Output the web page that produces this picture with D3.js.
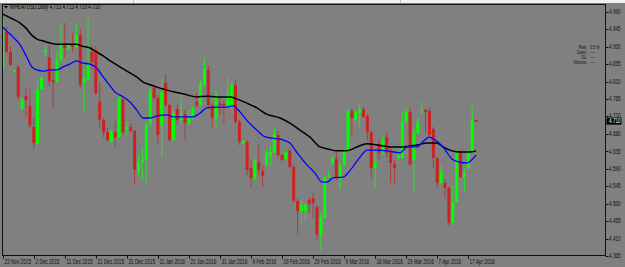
<!DOCTYPE html>
<html><head><meta charset="utf-8">
<script src="https://cdn.jsdelivr.net/npm/d3@7"></script>
<style>body{margin:0;background:#808080;} svg{display:block}</style>
</head><body><svg id="c" width="625" height="267"></svg>
<script>
// ---- data ----
const opens = [4.841,4.938,4.887,4.837,4.849,4.741,4.774,4.749,4.695,4.652,
4.792,4.887,4.874,4.815,4.810,4.866,4.910,4.895,4.905,4.900,
4.930,4.808,4.815,4.887,4.892,4.759,4.713,4.682,4.657,4.682,
4.669,4.767,4.690,4.695,4.685,4.583,4.606,4.611,4.703,4.795,
4.769,4.700,4.808,4.751,4.662,4.741,4.713,4.728,4.703,4.718,
4.759,4.751,4.803,4.841,4.751,4.718,4.756,4.754,4.746,4.744,
4.803,4.708,4.654,4.657,4.590,4.565,4.606,4.583,4.598,4.621,
4.629,4.675,4.623,4.613,4.634,4.593,4.506,4.480,4.480,4.508,
4.513,4.490,4.419,4.462,4.567,4.603,4.613,4.567,4.598,4.631,
4.736,4.713,4.731,4.741,4.723,4.682,4.590,4.652,4.629,4.669,
4.634,4.600,4.616,4.616,4.708,4.733,4.611,4.680,4.733,4.739,
4.736,4.690,4.616,4.552,4.552,4.539,4.450,4.503,4.631,4.567,
4.590,4.631,4.713];
const highs = [4.976,4.951,4.902,4.841,4.851,4.769,4.797,4.792,4.718,4.815,
4.826,4.900,4.905,4.841,4.892,4.961,4.961,4.907,4.936,4.961,
4.948,4.849,4.974,4.902,4.902,4.810,4.718,4.693,4.687,4.710,
4.774,4.772,4.710,4.703,4.687,4.623,4.641,4.708,4.795,4.803,
4.777,4.820,4.828,4.756,4.739,4.754,4.777,4.739,4.739,4.749,
4.782,4.815,4.872,4.851,4.756,4.790,4.769,4.762,4.820,4.810,
4.815,4.713,4.662,4.662,4.611,4.616,4.649,4.598,4.636,4.649,
4.693,4.685,4.626,4.636,4.641,4.598,4.513,4.508,4.501,4.516,
4.526,4.496,4.478,4.572,4.583,4.623,4.631,4.603,4.641,4.744,
4.744,4.739,4.756,4.746,4.728,4.687,4.636,4.662,4.675,4.682,
4.641,4.611,4.636,4.736,4.744,4.744,4.693,4.718,4.759,4.741,
4.744,4.695,4.618,4.598,4.559,4.544,4.547,4.636,4.636,4.590,
4.636,4.751,4.713];
const lows = [4.836,4.884,4.851,4.836,4.764,4.739,4.721,4.690,4.641,4.649,
4.790,4.874,4.800,4.746,4.808,4.864,4.874,4.892,4.887,4.897,
4.795,4.731,4.810,4.841,4.777,4.695,4.669,4.657,4.654,4.644,
4.667,4.675,4.675,4.682,4.547,4.570,4.559,4.552,4.700,4.764,
4.654,4.616,4.746,4.657,4.659,4.700,4.708,4.662,4.700,4.713,
4.746,4.749,4.800,4.744,4.695,4.693,4.726,4.705,4.744,4.741,
4.703,4.649,4.652,4.572,4.542,4.557,4.567,4.542,4.595,4.598,
4.626,4.616,4.606,4.611,4.588,4.501,4.419,4.450,4.457,4.475,
4.462,4.406,4.380,4.460,4.565,4.598,4.559,4.534,4.595,4.629,
4.675,4.708,4.693,4.718,4.662,4.565,4.539,4.611,4.623,4.616,
4.552,4.552,4.611,4.613,4.705,4.595,4.529,4.677,4.726,4.680,
4.672,4.590,4.539,4.549,4.513,4.442,4.447,4.501,4.565,4.529,
4.585,4.629,4.710];
const closes = [4.969,4.887,4.854,4.840,4.772,4.767,4.764,4.698,4.654,4.790,
4.820,4.892,4.813,4.810,4.866,4.910,4.897,4.905,4.900,4.930,
4.803,4.820,4.854,4.861,4.782,4.713,4.682,4.662,4.685,4.669,
4.769,4.682,4.695,4.685,4.585,4.606,4.611,4.700,4.787,4.769,
4.675,4.785,4.751,4.662,4.731,4.713,4.726,4.705,4.718,4.744,
4.751,4.808,4.846,4.751,4.718,4.777,4.751,4.749,4.777,4.803,
4.708,4.657,4.659,4.585,4.565,4.608,4.585,4.570,4.631,4.631,
4.677,4.623,4.611,4.631,4.593,4.506,4.480,4.496,4.496,4.498,
4.501,4.419,4.465,4.567,4.572,4.616,4.567,4.598,4.636,4.736,
4.718,4.733,4.741,4.721,4.682,4.590,4.606,4.629,4.662,4.629,
4.603,4.590,4.623,4.710,4.733,4.600,4.680,4.710,4.736,4.733,
4.675,4.616,4.552,4.580,4.539,4.450,4.503,4.631,4.567,4.577,
4.631,4.713,4.710];

// moving averages read at sampled bar positions
const maBlackIdx = [0,2,4.5,6,7.5,8.8,10.5,12.2,14,19,20.4,22.5,24.2,25.9,27.7,29.4,32,34.5,36.2,38,39.7,41.4,44,46.5,50,52.6,55.2,58.6,60.3,62.9,65.5,68,71.5,74,76.6,79.2,81.8,83.8,86.2,88.7,91.3,93.9,96.5,99.8,103.2,106.8,109.4,111.9,113.5,115.8,117.9,120.4,122];
const maBlackVal = [4.984,4.974,4.961,4.948,4.930,4.920,4.915,4.910,4.907,4.907,4.902,4.897,4.887,4.877,4.864,4.854,4.838,4.823,4.810,4.803,4.797,4.792,4.785,4.780,4.772,4.774,4.772,4.772,4.767,4.756,4.744,4.728,4.718,4.705,4.687,4.669,4.644,4.639,4.634,4.634,4.644,4.652,4.649,4.644,4.644,4.649,4.654,4.654,4.644,4.634,4.631,4.631,4.634];
const maBlueIdx = [0,1,2.7,4.5,6.2,7.5,8.8,10.5,12.2,13.9,15.6,17.3,19.1,20.4,22.5,24.2,25.9,27.7,28.9,31.1,32.8,34.5,36.2,38,39.7,42.3,44,46.5,49.1,50.9,52.6,55.2,57.7,59.4,61.2,63.3,65.5,67.2,68.9,71.5,72.2,74,75.9,78.4,80.5,82.3,83.6,85.1,87.7,90,92.1,93.9,96.5,99.1,102.4,104.2,106.8,108.3,109.9,111.4,113.5,115.8,117.4,119.7,120.9,122];
const maBlueVal = [4.951,4.941,4.925,4.905,4.874,4.849,4.841,4.838,4.841,4.841,4.849,4.856,4.864,4.859,4.856,4.846,4.823,4.800,4.785,4.772,4.759,4.739,4.718,4.718,4.723,4.726,4.721,4.721,4.721,4.731,4.744,4.746,4.746,4.749,4.733,4.708,4.687,4.672,4.667,4.664,4.662,4.654,4.629,4.598,4.577,4.554,4.554,4.565,4.567,4.590,4.618,4.636,4.636,4.634,4.629,4.644,4.644,4.657,4.669,4.662,4.644,4.613,4.606,4.603,4.611,4.623];

const yTickLabels = ["4.990","4.945","4.900","4.855","4.810","4.765","4.720","4.680","4.635","4.590","4.545","4.500","4.455","4.410","4.365"];
const xTickIdx = [0,8,16,24,32,40,48,56,64,72,80,88,96,104,112,120];
const xTickLabels = ["23 Nov 2015","2 Dec 2015","11 Dec 2015","21 Dec 2015","31 Dec 2015","11 Jan 2016","21 Jan 2016","31 Jan 2016","9 Feb 2016","19 Feb 2016","29 Feb 2016","9 Mar 2016","18 Mar 2016","29 Mar 2016","7 Apr 2016","17 Apr 2016"];
const levelPrice = 4.756;
const lastPrice = 4.710;
const headerText = "WHEATUSD,Daily  4.713 4.713 4.710 4.710";
const riskLabels = ["Risk:","Open:","SL:","Volume:"];
const riskValues = ["0.5 %","----","----","----"];

// ---- drawing ----
const W = 625, H = 267;
const L = 2.5, R = 605.5, T = 4.5, B = 255.5;
const svg = d3.select('#c');
const FONT = "'Liberation Sans', Arial, sans-serif";
const SX = 0.72;

svg.append('rect').attr('width', W).attr('height', H).attr('fill', '#808080');
svg.append('rect').attr('width', W).attr('height', 3).attr('fill', '#f2f2f2');
svg.append('line').attr('x1', 133.5).attr('x2', 133.5).attr('y1', 0).attr('y2', 3).attr('stroke', '#bbb');
svg.append('line').attr('x1', 400.5).attr('x2', 400.5).attr('y1', 0).attr('y2', 3).attr('stroke', '#bbb');

const x = d3.scaleLinear().domain([0, 1]).range([2.7, 6.58]);
const y = d3.scaleLinear().domain([4.365, 4.990]).range([256, 11.7]);

svg.append('defs').append('clipPath').attr('id', 'pc')
  .append('rect').attr('x', L + 0.5).attr('y', T).attr('width', R - L - 0.5).attr('height', B - T);

const g = svg.append('g').attr('clip-path', 'url(#pc)');

// level line
g.append('line').attr('x1', L).attr('x2', R).attr('y1', Math.round(y(levelPrice)) + 0.5).attr('y2', Math.round(y(levelPrice)) + 0.5)
  .attr('stroke', '#38b838').attr('stroke-width', 1);

const bars = d3.range(opens.length).map(i => ({i, o: opens[i], h: highs[i], l: lows[i], c: closes[i]}));

// wicks
g.selectAll('line.wick').data(bars).join('line').attr('class', 'wick')
  .attr('x1', d => x(d.i)).attr('x2', d => x(d.i))
  .attr('y1', d => y(d.h)).attr('y2', d => y(d.l))
  .attr('stroke', d => d.c >= d.o ? '#2ee02e' : '#b23a3a').attr('stroke-width', 1);

// bodies
g.selectAll('rect.body').data(bars).join('rect').attr('class', 'body')
  .attr('x', d => x(d.i) - 1.5).attr('width', 3)
  .attr('y', d => y(Math.max(d.o, d.c)))
  .attr('height', d => Math.max(1, Math.abs(y(d.o) - y(d.c))))
  .attr('fill', d => d.c >= d.o ? '#00ff00' : '#cc2222');

// moving averages
const lineB = d3.line().x(d => x(d[0])).y(d => y(d[1])).curve(d3.curveMonotoneX);
g.append('path').datum(maBlackIdx.map((v, k) => [v, maBlackVal[k]]))
  .attr('d', lineB).attr('fill', 'none').attr('stroke', '#000').attr('stroke-width', 1.5);
g.append('path').datum(maBlueIdx.map((v, k) => [v, maBlueVal[k]]))
  .attr('d', lineB).attr('fill', 'none').attr('stroke', '#0000ff').attr('stroke-width', 1.3);

// frame
svg.append('rect').attr('x', L).attr('y', T).attr('width', R - L).attr('height', B - T)
  .attr('fill', 'none').attr('stroke', '#111').attr('stroke-width', 1);

// y axis
const step = (4.990 - 4.365) / 14;
const yVals = yTickLabels.map((t, k) => 4.990 - k * step);
const yl = y(lastPrice);
const ya = svg.append('g');
yVals.forEach((v, k) => {
  const yy = y(v);
  ya.append('line').attr('x1', R).attr('x2', R + 3).attr('y1', Math.round(yy) + 0.5).attr('y2', Math.round(yy) + 0.5).attr('stroke', '#111');
  // label hidden behind the price box is nudged up slightly, as in the reference
  const ty = Math.abs(yy - yl) < 7 ? yl - 3.6 : yy + 2.2;
  ya.append('text').attr('transform', `translate(${R + 3.5},${ty}) scale(${SX},1)`)
    .attr('font-family', FONT).attr('font-size', 6.5).attr('fill', '#111').text(yTickLabels[k]);
});
// last price box
svg.append('rect').attr('x', R + 1).attr('y', yl - 3.5).attr('width', 15).attr('height', 7).attr('fill', '#000');
svg.append('text').attr('transform', `translate(${R + 3.5},${yl + 2.3}) scale(${SX},1)`)
  .attr('font-family', FONT).attr('font-size', 6.5).attr('fill', '#fff').text(d3.format('.3f')(lastPrice));

// last tick marker
svg.append('line').attr('x1', x(opens.length - 1) - 1.5).attr('x2', x(opens.length - 1) + 1.5)
  .attr('y1', y(lastPrice)).attr('y2', y(lastPrice)).attr('stroke', '#cc2222');

// x axis
const xa = svg.append('g');
xTickIdx.forEach((idx, k) => {
  const xx = Math.round(x(idx)) + 0.5;
  xa.append('line').attr('x1', xx).attr('x2', xx).attr('y1', B).attr('y2', B + 3).attr('stroke', '#111');
  xa.append('text').attr('transform', `translate(${xx + 1},${B + 8}) scale(${SX},1)`)
    .attr('font-family', FONT).attr('font-size', 6.5).attr('fill', '#111').text(xTickLabels[k]);
});

// header
svg.append('path').attr('d', 'M4,6 L8,6 L6,8.5 Z').attr('fill', '#000');
svg.append('text').attr('transform', `translate(10,9) scale(${SX},1)`)
  .attr('font-family', FONT).attr('font-size', 6.5).attr('fill', '#000').text(headerText);

// risk panel
riskLabels.forEach((t, k) => {
  const yy = 48.5 + k * 5.3;
  svg.append('text').attr('transform', `translate(587,${yy}) scale(${SX},1)`)
    .attr('text-anchor', 'end').attr('font-family', FONT).attr('font-size', 5.2).attr('fill', '#111').text(t);
  svg.append('text').attr('transform', `translate(590,${yy}) scale(${SX},1)`)
    .attr('font-family', FONT).attr('font-size', 5.2).attr('fill', '#111').text(riskValues[k]);
});
</script></body></html>
